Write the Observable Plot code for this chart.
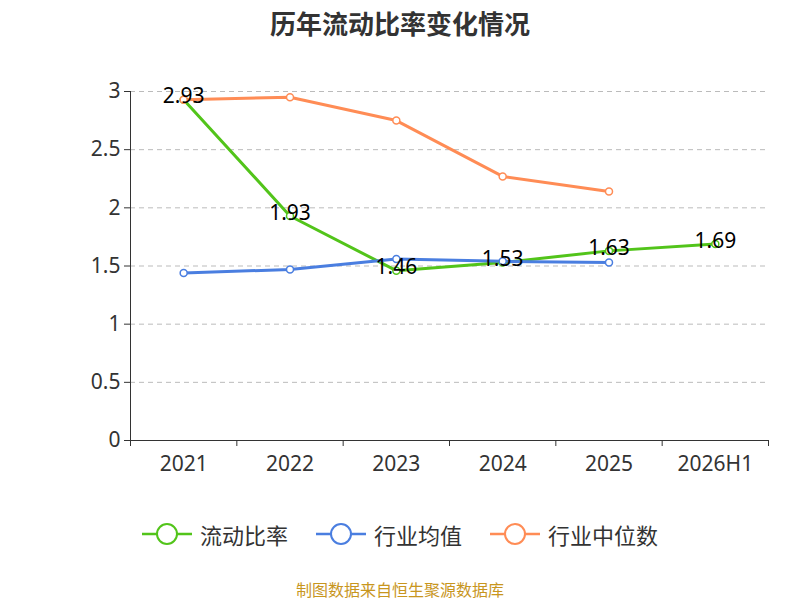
<!DOCTYPE html>
<html><head><meta charset="utf-8">
<script src="https://cdn.jsdelivr.net/npm/d3@7"></script>
<script src="https://cdn.jsdelivr.net/npm/@observablehq/plot@0.6"></script>
<style>
body{margin:0;width:800px;height:600px;position:relative;font-family:"Noto Sans CJK SC","Noto Sans",sans-serif;background:#fff}
#title{position:absolute;top:4px;width:800px;text-align:center;font-size:26px;font-weight:bold;color:#333}
#chart{position:absolute;top:50px;left:0}
#legend{position:absolute;top:518px;width:800px;display:flex;justify-content:center;gap:28px;font-size:22px;color:#333}
#legend span{display:flex;align-items:center;gap:8px}
#caption{position:absolute;top:577px;width:800px;text-align:center;font-size:16px;color:#c8961e}
</style></head><body>
<div id="title">历年流动比率变化情况</div>
<div id="chart"></div>
<div id="legend"></div>
<div id="caption">制图数据来自恒生聚源数据库</div>
<script>
const categories=["2021","2022","2023","2024","2025","2026H1"];
const ratio=[2.93,1.93,1.46,1.53,1.63,1.69];
const industryAvg=[1.44,1.47,1.56,1.54,1.53];
const industryMedian=[2.93,2.95,2.75,2.27,2.14];
const seriesNames=["流动比率","行业均值","行业中位数"];
const colors=["#52c41a","#4a7ee0","#ff8c55"];
const rows=[];
[ratio,industryAvg,industryMedian].forEach((arr,s)=>arr.forEach((v,i)=>rows.push({s:seriesNames[s],x:i+0.5,v})));
const green=rows.filter(d=>d.s===seriesNames[0]);
const plot=Plot.plot({
 width:800,height:430,marginLeft:130,marginRight:32,marginTop:41,marginBottom:40,
 style:{fontSize:"21px",fontFamily:"Noto Sans, sans-serif",color:"#333"},
 x:{domain:[0,6]},
 y:{domain:[0,3]},
 color:{domain:seriesNames,range:colors},
 marks:[
  Plot.gridY({ticks:[0.5,1,1.5,2,2.5,3],stroke:"#bbb",strokeOpacity:1,strokeDasharray:"5,4"}),
  Plot.axisY({ticks:[0,0.5,1,1.5,2,2.5,3],tickFormat:d=>String(d),tickSize:6,label:null,tickPadding:4}),
  Plot.ruleX([0],{stroke:"#333"}),
  Plot.ruleY([0],{stroke:"#333"}),
  Plot.axisX({ticks:[0,1,2,3,4,5,6],tickFormat:()=>"",tickSize:6,label:null}),
  Plot.axisX({ticks:[0.5,1.5,2.5,3.5,4.5,5.5],tickFormat:d=>categories[Math.floor(d)],tickSize:0,tickPadding:16,label:null}),
  Plot.line(rows,{x:"x",y:"v",z:"s",stroke:"s",strokeWidth:3}),
  Plot.dot(rows,{x:"x",y:"v",stroke:"s",fill:"white",r:3.5,strokeWidth:1.5}),
  Plot.text(green,{x:"x",y:"v",text:d=>d.v.toFixed(2),fill:"black",fontSize:21,dy:-3})
 ]
});
document.getElementById("chart").appendChild(plot);
const lg=document.getElementById("legend");
seriesNames.forEach((n,i)=>{lg.innerHTML+=`<span><svg width="50" height="24"><line x1="0" y1="12" x2="50" y2="12" stroke="${colors[i]}" stroke-width="2.5"/><circle cx="25" cy="12" r="10" fill="white" stroke="${colors[i]}" stroke-width="2"/></svg>${n}</span>`});
</script></body></html>
